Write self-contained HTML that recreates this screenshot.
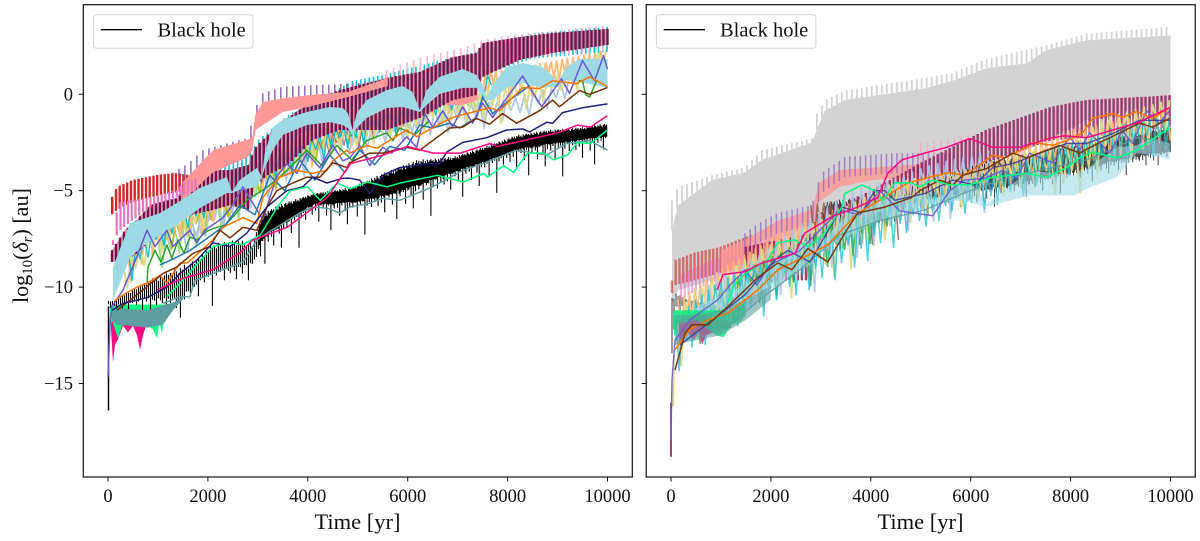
<!DOCTYPE html>
<html>
<head>
<meta charset="utf-8">
<title>Black hole log10 delta r over time</title>
<style>
html,body{margin:0;padding:0;background:#fff;width:1200px;height:541px;overflow:hidden}
svg{display:block}
text{font-family:"Liberation Serif",serif;fill:#111}
</style>
</head>
<body>
<svg id="figure" xmlns="http://www.w3.org/2000/svg" width="1200" height="541" viewBox="0 0 1200 541">
  <rect width="1200" height="541" fill="#fff"/>
  <g id="left-panel"></g>
  <g id="right-panel"></g>
  <g id="decor"></g>
  <rect x="83.3" y="4.7" width="549" height="472.3" fill="none" stroke="#111" stroke-width="1.2"/>
  <rect x="646.2" y="4.7" width="549" height="472.3" fill="none" stroke="#111" stroke-width="1.2"/>
  <g>
    <rect x="93.5" y="14.7" width="159.5" height="33.6" rx="3" fill="#fff" fill-opacity="0.8" stroke="#d4d4d4" stroke-width="1"/>
    <line x1="100.8" x2="142" y1="29.7" y2="29.7" stroke="#000" stroke-width="1.4"/>
    <text x="157.5" y="36.5" font-size="20.5">Black hole</text>
  </g>
  <g>
    <rect x="656.4" y="14.7" width="159.5" height="33.6" rx="3" fill="#fff" fill-opacity="0.8" stroke="#d4d4d4" stroke-width="1"/>
    <line x1="663.7" x2="705" y1="29.7" y2="29.7" stroke="#000" stroke-width="1.4"/>
    <text x="720" y="36.5" font-size="20.5">Black hole</text>
  </g>
  <text x="357.5" y="529" font-size="22.5" text-anchor="middle">Time [yr]</text>
  <text x="920.5" y="529" font-size="22.5" text-anchor="middle">Time [yr]</text>
  <text transform="translate(28,303) rotate(-90)" font-size="22">log<tspan font-size="15" dy="4">10</tspan><tspan dy="-4">(</tspan><tspan font-style="italic">δ</tspan><tspan font-size="15" font-style="italic" dy="4">r</tspan><tspan dy="-4">) [au]</tspan></text>
</svg>
<script>
/* ---------- axis ticks ---------- */
const xTickValues=[0,2000,4000,6000,8000,10000];
const yTickValues=[0,-5,-10,-15];

/* ---------- left panel: spiky bands (time yr, log10 au) ---------- */
const lRedT=[10,40,100,180,500,980,1380,1600];
const lRedTop=[-6.62,-5.64,-5.2,-4.81,-4.44,-4.18,-4.08,-4.18];
const lRedBot=[-6.62,-6.42,-6.16,-6,-5.59,-5.27,-5.07,-4.96];
const lOrchidT=[100,200,500,860,1380,1500,1800];
const lOrchidTop=[-7.56,-5.64,-5.48,-5.33,-4.96,-4.6,-4.34];
const lOrchidBot=[-7.82,-7.14,-6.52,-5.84,-5.33,-5.22,-4.96];
const lSalmonT=[1500,2100,2800,2890,2950,3100,3500,4000,4800,5600];
const lSalmonTop=[-4.55,-2.9,-2.35,-2.2,-1.07,-0.4,-0.2,-0.05,0.12,0.85];
const lSalmonBot=[-5.5,-4.05,-3.25,-2.9,-1.85,-1.6,-0.92,-0.66,-0.14,0.43];
const lSalmonPatchT=[6700,7100,7400];
const lSalmonPatchTop=[0.33,0.33,0.33];
const lSalmonPatchBot=[-0.55,-0.55,-0.3];
const lPurpleT=[1300,1600,1900,2800,2950,3100,3500,5000,5800];
const lPurpleTop=[-4.05,-3.6,-2.9,-2.25,-0.7,0.05,0.4,0.58,0.7];
const lPurpleBot=[-5,-4.6,-4,-3.3,-1.7,-0.9,-0.6,-0.3,-0.2];
const lMaroonT=[80,340,540,840,1380,1640,2100,2440,2800,2940,3200,3600,4100,4640,5580,6240,6900,7380,7500,8240,8900,10000];
const lMaroonTop=[-8.08,-7.04,-6.62,-5.74,-5.38,-4.44,-3.93,-3.93,-3.67,-2.79,-2.11,-1.23,-0.3,0.22,0.85,1.16,1.93,2.14,2.66,2.97,3.18,3.39];
const lMaroonBot=[-8.7,-8.59,-8.33,-7.56,-6.62,-6.26,-6,-5.74,-6,-4.7,-4.19,-3.67,-2.37,-1.85,-1.85,-1.23,-0.3,-0.04,0.9,1.78,2.14,2.56];
const lPinkPaleT=[5580,6280,7100,7500,8040,9900,10000];
const lPinkPaleTop=[1.26,1.93,2.4,2.82,3.08,3.54,3.54];
const lPinkPaleBot=[0,0.64,1.1,1.52,1.78,2.24,2.24];
const lCyanT=[2000,2800,3000,3600,4900,5500,7500,8500,10000];
const lCyanTop=[-3.6,-3.25,-2.4,-1.1,0.7,1,2.3,3.15,3.5];
const lCyanBot=[-4.9,-4.5,-3.7,-2.4,-0.6,-0.3,1,1.85,2.2];
const lSkyT=[100,440,640,1040,1380,1840,2380,2480,2640,2980,3080,3140,3300,3500,3980,4440,4700,4800,4900,4980,5180,5580,5900,6100,6240,6380,6640,7100,7380,7500,7580,7700,7980,8300,8700,8880,9000,9180,9440,10000];
const lSkyTop=[-8.96,-6.68,-6.52,-6.16,-5.64,-4.86,-4.29,-5.07,-4.44,-3.82,-4.29,-3.04,-1.7,-1.33,-0.92,-0.66,-0.71,-0.97,-1.85,-0.97,-0.3,0.22,0.43,0.12,-0.81,0.22,0.9,1.31,1,0.48,-0.19,0.48,1.42,1.62,1.42,1,0.59,1.42,1.83,1.83];
const lSkyBot=[-10.67,-8.49,-7.97,-7.3,-6.78,-5.9,-5.12,-5.12,-4.96,-4.81,-4.29,-3.82,-2.89,-2.11,-1.59,-1.44,-1.59,-1.75,-2.11,-1.75,-1.23,-0.71,-0.66,-0.81,-0.92,-0.55,0.02,0.33,0.33,-0.04,-0.3,-0.3,0.33,0.59,0.33,0.38,0.38,0.74,0.64,0.33];
const lKhakiT=[300,1000,2000,2800,3500,4900,5800,6900,7800,8500,9200,10000];
const lKhakiTop=[-8.85,-6.8,-5.25,-3.7,-2.4,-1.85,-1,-0.3,0.45,0.7,1.1,2.45];
const lKhakiBot=[-10.25,-8.35,-6.8,-5.5,-4.2,-2.75,-2.4,-1.6,-1.6,-0.65,0.2,0.85];
const lPeachT=[400,1100,2100,3000,4000,5000,6000,7000,8000,9000,10000];
const lPeachTop=[-8.05,-6.25,-5,-3.7,-1.85,-0.7,0.45,1.25,1.25,1.75,2.3];
const lPeachBot=[-9.9,-7.8,-6.8,-5,-3.7,-2.4,-1.6,-0.85,-0.55,0.7,1];
const lPaleBlueT=[1500,3000,4000,5000,6000,7000,8000,9000,9400];
const lPaleBlueTop=[-7.05,-3.95,-2.4,-1.85,-1.1,-0.55,-0.3,0.45,1.25];
const lPaleBlueBot=[-8.35,-5.75,-3.95,-2.9,-2.4,-1.85,-1.45,-0.55,-0.05];
const lMintT=[1000,2500,3500,4500,5500,6500,7500];
const lMintTop=[-7.55,-5,-2.9,-1.6,-0.85,-0.3,0.2];
const lMintBot=[-9.1,-6.8,-4.2,-2.9,-2.1,-1.6,-1.1];
const lGrayT=[1000,2500,3500,4500,6000,7500];
const lGrayTop=[-6.8,-4.7,-2.9,-1.6,-0.55,0.45];
const lGrayBot=[-8.1,-6.55,-4.45,-2.9,-1.85,-0.85];
const lMauveT=[2500,3500,4500,5500,6500];
const lMauveTop=[-4.7,-2.6,-1.5,-0.9,-0.3];
const lMauveBot=[-6.2,-3.9,-2.8,-2.2,-1.5];
const lTanT=[3000,4000,5000,6000];
const lTanTop=[-3.7,-2.4,-1.6,-0.85];
const lTanBot=[-4.7,-3.4,-2.65,-2.1];
const lOliveT=[1200,2500,4000,5000,5500];
const lOliveTop=[-6.8,-5.25,-2.4,-1.35,-0.85];
const lOliveBot=[-8.1,-6.25,-3.7,-2.4,-1.85];
const lCyanLowT=[400,1000,2000,3000,5000,6500,7500,7700];
const lCyanLowTop=[-8.05,-6.8,-5.25,-3.4,-1.35,-0.3,0.7,1.25];
const lCyanLowBot=[-9.9,-8.05,-6.25,-4.7,-2.65,-1.1,-0.3,0.2];
const lPinkBlobT=[60,100,140,200,300,400,500,580,640,700,760,860,950];
const lPinkBlobTop=[-11.2,-11.2,-11.2,-11.2,-11.2,-11.2,-11.2,-11.2,-11.2,-11.2,-11.2,-11.2,-11.2];
const lPinkBlobBot=[-12.2,-13.9,-13,-12.7,-12,-12.35,-12,-12.5,-13.25,-12.5,-12,-12.1,-11.8];
const lSpringBlobT=[40,80,200,280,500,800,900,980,1030,1080,1150];
const lSpringBlobTop=[-10.9,-10.9,-10.9,-10.9,-10.9,-10.9,-10.9,-10.9,-10.9,-10.9,-10.9];
const lSpringBlobBot=[-12.2,-11.7,-12.65,-12,-11.8,-12,-12.2,-12.65,-11.8,-12.4,-11.2];
const lTealBlobT=[80,200,800,1100,1300,1500];
const lTealBlobTop=[-11.2,-11.1,-11.2,-10.95,-10.8,-10.5];
const lTealBlobBot=[-11.8,-11.95,-12.1,-11.95,-11.2,-10.65];
const lBlackT=[10,40,100,300,800,1400,1800,2100,2600,2900,3100,3500,4100,4900,5500,6200,6900,7500,8200,8800,9500,10000];
const lBlackTop=[-10.7,-10.7,-10.7,-10.4,-9.65,-9,-8.5,-7.7,-7.55,-7.7,-6.15,-5.65,-5.15,-4.8,-4.1,-3.4,-3.25,-2.75,-2.1,-1.85,-1.7,-1.5];
const lBlackBot=[-10.9,-10.9,-10.9,-10.9,-10.65,-10.75,-9.8,-9.25,-9.1,-8.75,-7.55,-6.8,-5.75,-5.65,-5.35,-4.8,-4.1,-3.6,-2.9,-2.65,-2.4,-2.2];
const bhDips=[0,0.2,0,0.1,0.5,0,0,0.3,0,0,0.9,0,0.1,0,0.2,0,0,0.6,0,0.1,0,1.4,0,0.1,0.3,0,0,0.2,0,0.7,0,0.1,0,0,0.4,0,1.1,0,0.2,0,0,0.3,0,0.1,0,0.8,0,0,0.2,0,0.1,0,1.8,0,0.3,0,0.1,0,0.5,0];
const bhPeaks=[0.1,0.5,0.3,0.7,0,0.4,0.8,0.2,0.6,0,0.5,0.9,0.3,0.1,0.7,0.4,0,0.6,0.2,0.8,0.3,0.5,0,0.7,0.4,0.9,0.1,0.6,0.3];
const lBlackRiseT=[10,10];
const lBlackRiseV=[-16.4,-11];

/* ---------- left panel: lines ---------- */
const lHotPinkT=[980,1440,2100,2650,2900,3590,4390,4850,5510,5990,6510,7050,7650,7800,9000,9400,9660,10000];
const lHotPinkV=[-10.15,-9.6,-9.1,-8.2,-7.55,-6.9,-5.35,-3.6,-3.15,-2.7,-3.05,-3.05,-2.55,-2.7,-2,-1.6,-1.7,-1.1];
const lSpringT=[1180,1440,2100,2440,2700,3050,3390,3650,3990,4250,4590,4850,5190,5590,5850,6590,7120,7520,7600,7920,8120,8400,8720,8920,9200,9400,9660,10000];
const lSpringV=[-10.5,-9.8,-7.9,-7.7,-7.8,-7.3,-5.85,-5,-4.8,-5.5,-4.6,-4.9,-4.55,-4.8,-4.6,-4.2,-4.55,-4.1,-4.3,-3.7,-4.05,-3.05,-3.05,-3.4,-3.15,-2.5,-2.55,-1.85];
const lTealT=[1100,1440,1640,1740,2100,2700,2980,3180,3440,3840,4100,4380,4640,4840,5240,5500,5840,6500,7100,7500,8180,8780,9180,9640,10000];
const lTealV=[-10.85,-10.5,-10.5,-9.65,-9.3,-8.7,-7.55,-7.2,-6.8,-6.15,-5.85,-5.9,-6.15,-5.85,-5.65,-5.4,-5.5,-4.8,-3.95,-3.6,-2.9,-3.15,-2.55,-2.4,-2.9];
const lNavyT=[80,300,780,1180,1440,1780,2100,2440,2780,3180,3580,3900,4100,4380,4700,4840,5040,5240,5500,5840,6380,6640,6780,7100,7580,7980,8300,8440,8780,8900,9100,9500,10000];
const lNavyV=[-11.2,-10.85,-10.55,-10,-9.3,-8.6,-7.7,-7.9,-7.2,-5.85,-5,-4.8,-4.3,-4.6,-4.35,-4.35,-4.45,-5.15,-4.2,-3.8,-3.6,-3.6,-3,-2.5,-2.25,-1.85,-1.8,-1.95,-1.45,-1.5,-0.95,-0.7,-0.5];
const lBrownT=[180,580,1100,1380,1700,2040,2180,2240,2440,2700,2980,3180,3380,3700,3980,4240,4500,4780,4840,5240,5500,5980,6240,6840,7100,7380,7640,7900,8180,8640,8900,9040,9440,9640,10000];
const lBrownV=[-11.2,-10.4,-9.3,-8.95,-8.25,-7.9,-7.3,-7.05,-7.45,-6.9,-7.05,-5.85,-5,-4.6,-4.3,-4.3,-3.55,-3.8,-3.55,-3.05,-3.05,-2.75,-2.9,-1.75,-1.7,-1.25,-1.55,-1,-1.5,-0.85,-0.3,-0.65,0.2,0,0.35];
const lOrangeT=[140,300,580,780,1040,1180,1440,1580,1700,2100,2300,2700,2980,3100,3440,3780,4100,4380,4500,4780,4840,5180,5380,5980,6180,6700,6900,7640,7840,8300,8640,8900,9380,9640,10000];
const lOrangeV=[-10.7,-10.4,-10,-9.8,-9.4,-9.8,-8.75,-8.75,-8.5,-7.55,-6.9,-6.4,-6.7,-5.35,-4.3,-3.95,-4.1,-3.95,-3.45,-2.9,-3.05,-2.65,-2.8,-1.85,-2.2,-1.45,-1.2,-0.7,-0.85,0.35,0.3,0.7,0.55,0.9,0.4];
const lVioletT=[0,40,80,300,580,780,940,1180,1300,1640,1780,1940,2300,2480,2700,3100,3380,3580,3780,3980,4240,4500,4700,4840,5040,5240,5500,5680,5980,6180,6340,6500,6700,6900,7100,7300,7500,7700,8300,8680,9080,9240,9500,9740,9920,10000];
const lVioletV=[-14.65,-11.85,-11,-10.15,-8.4,-7.05,-7.9,-7.05,-7.9,-7.05,-7.7,-7.05,-6.4,-5.8,-4.8,-6.5,-4.25,-3.6,-4.1,-3.05,-3.8,-2.65,-3.45,-3.3,-2.65,-3.7,-2.75,-3.05,-2.2,-2.75,-1,-1.7,-0.85,-1.7,-0.65,-1.5,-0.45,-1.2,0.95,-0.65,0.8,0.05,1.75,0.7,2,1.3];
const lBlueT=[1040,1340,1640,1940,2340,2640,2940,3240,3540,3840,4140,4440,4740,5040,5340,5640,5940,6240,6500,6840,7040,7380,7500,7700,8040,8440];
const lBlueV=[-8.85,-8.5,-8.1,-7.55,-6.8,-5.75,-6.25,-4.2,-5,-3.4,-4.45,-3.15,-4.05,-2.9,-3.65,-2.7,-2.9,-1.6,-1.75,-1.5,-1.75,-1.2,-0.15,-1,-0.3,0.45];
const lGreenT=[780,800,940,1060,1180,1280,1400,1520,1640,1780,1980,2180,2340,2540,2780,3080,3380,3680,3980,4280,4580,4880,5180,5580,5700,5840,6140,6440];
const lGreenV=[-9.8,-8.97,-8.09,-8.7,-7.82,-8.5,-7.56,-8.23,-7.4,-7.56,-7.1,-6.9,-6.8,-6.25,-5.5,-5,-4.45,-3.7,-2.9,-3.7,-2.65,-3.4,-2.4,-2,-2.4,-1.75,-2.1,-1.35];
const lGreenLateT=[9420,9500,9560,9640,9700,9780];
const lGreenLateV=[0.7,0.7,0,-0.15,0.2,0.7];

/* ---------- right panel: bands ---------- */
const rGrayT=[20,140,820,1480,1820,2820,2880,3080,3480,5080,5640,6320,7120,7520,8320,10000];
const rGraySpike=[-5.5,-4.8,-4.2,-3.8,-2.9,-2.3,-1.2,-0.3,0.2,0.85,1.1,1.85,2.3,2.55,3.15,3.5];
const rGrayTop=[-7.05,-5.75,-4.45,-4.05,-3.4,-2.5,-2.1,-0.85,-0.3,0.3,0.7,1.35,1.6,2.3,2.8,3.05];
const rGrayBot=[-10.9,-10.15,-9.65,-9.1,-8.6,-7.3,-7.05,-6,-5.5,-5,-4.45,-3.7,-2.9,-2.4,-1.35,-0.85];
const rBlackT=[20,100,300,1000,2000,3000,3100,3500,4000,4600,5200,6400,7200,8800,9400,10000];
const rBlackTop=[-10.5,-10.3,-10.6,-11,-9,-6.5,-5.6,-5.4,-5.3,-4.9,-4.4,-3.4,-3,-2.2,-1.9,-1.6];
const rBlackBot=[-13.5,-11,-11,-11.3,-9.8,-7.5,-7,-6.8,-6.6,-5.8,-5.4,-5,-4.6,-3.6,-3.3,-3];
const rRedT=[20,80,480,940,1600];
const rRedTop=[-9.65,-8.6,-8.2,-7.95,-7.3];
const rRedBot=[-10.3,-9.9,-9.65,-9.3,-8.85];
const rOrchidT=[200,700,1400,2000,2300];
const rOrchidTop=[-9.35,-8.7,-8.1,-7.55,-7.3];
const rOrchidBot=[-10.65,-9.9,-9.1,-8.7,-8.35];
const rSalmonT=[1000,1480,2140,2800,2880,2960,3380,4040,5080];
const rSalmonTop=[-8.1,-7.55,-6.55,-6,-5.5,-4.6,-3.92,-3.8,-3.6];
const rSalmonBot=[-9.4,-9.1,-8.1,-7.2,-6.8,-5.6,-4.8,-4.45,-4.3];
const rPurpleT=[1480,1740,2140,2820,3000,3480,4480,5080,5600];
const rPurpleTop=[-7.2,-6.7,-6.15,-5.75,-4.1,-3.25,-3.05,-3.05,-3.05];
const rPurpleBot=[-8.25,-7.75,-7.2,-6.8,-5.15,-4.3,-4.1,-4.1,-4.1];
const rMaroonT=[1500,2800,2900,4000,5000,6300,7600,8300,10000];
const rMaroonTop=[-7.9,-7.2,-6.25,-5,-3.55,-1.85,-0.65,-0.3,-0.05];
const rMaroonBot=[-9.65,-9.65,-8.1,-6.8,-5.5,-3.55,-2.4,-2.25,-1.7];
const rPinkPaleT=[5000,5640,6980,7640,8320,10000];
const rPinkPaleTop=[-2.55,-2.25,-1.7,-0.85,-0.2,-0.05];
const rPinkPaleBot=[-4.1,-3.8,-3.25,-2.4,-1.75,-1.6];
const rCyanT=[100,500,1000,1700,2500,3500,4400,5000,5600,6300,6900,7500,8200,9000,10000];
const rCyanTop=[-11.7,-10.65,-9.65,-8.85,-8.1,-6.8,-5.5,-5.25,-4.7,-4.2,-3.7,-2.9,-2.4,-1.6,-1.1];
const rCyanBot=[-14.55,-13.25,-12.5,-11.45,-10.4,-9.4,-7.8,-6.95,-6.3,-6,-5.25,-4.7,-3.95,-3.4,-2.9];
const rKhakiT=[120,580,1180,1780,2580,3580,4380,5180,5780,6580,7180,7780,8080,8580,9180,10000];
const rKhakiTop=[-11.2,-10.15,-9.1,-8.1,-7.05,-5.75,-4.7,-4.2,-3.95,-3.7,-2.9,-2.9,-2.9,-1.35,-0.85,-0.3];
const rKhakiBot=[-14.3,-13,-11.7,-10.65,-10.15,-9.1,-7.3,-6.25,-5.75,-5.25,-4.7,-5.25,-5.6,-3.95,-3.15,-2.4];
const rPaleBlueT=[580,1780,2180,2580,2720,3580,4380,5180,6380];
const rPaleBlueTop=[-10.15,-8.35,-7.55,-6.8,-6.55,-5,-4.45,-3.7,-2.9];
const rPaleBlueBot=[-12.2,-10.65,-10.4,-9.9,-10.15,-8.7,-7.3,-6.8,-5.75];
const rGreenT=[500,1000,1500,2500,3500,4500];
const rGreenTop=[-11.2,-10.4,-9.1,-7.8,-6.25,-5];
const rGreenBot=[-13,-12.5,-11.2,-10.15,-8.6,-6.8];
const rOrangeT=[150,1000,2000,3000,4000,5000,6000,8000,10000];
const rOrangeTop=[-10.65,-9.1,-7.55,-6.25,-5.25,-4.45,-3.95,-1.85,-0.85];
const rOrangeBot=[-13,-11.2,-10.15,-8.6,-7.3,-6,-5.25,-3.95,-2.4];
const rTanT=[2800,3400,4000,4600];
const rTanTop=[-5.75,-5.5,-5.5,-5.25];
const rTanBot=[-7.55,-8.1,-7.8,-7.3];
const rSkyT=[180,580,1480,1780,2580,2780,2880,3580,4180,5080,5280,5880,6180,6280,7180,8080,8280,8920,9320,9640,9980];
const rSkyTop=[-11.9,-10.9,-9.9,-9.4,-7.8,-7.55,-8.1,-6.1,-5.5,-5.1,-5.5,-4.45,-5,-5.75,-3.95,-4.2,-3.95,-2.75,-2.65,-2.25,-2.55];
const rSkyBot=[-13,-12.5,-11.2,-10.65,-9.1,-8.85,-8.35,-7.3,-6.55,-5.75,-5.65,-5.5,-5.75,-5.85,-5.25,-5.25,-4.95,-4.3,-3.05,-3.15,-3.4];
const rTealBlobT=[80,500,1000,1500,2000];
const rTealBlobTop=[-11.45,-11.45,-11.2,-10.65,-9.9];
const rTealBlobBot=[-13,-12.75,-12.5,-11.7,-10.65];
const rPinkBlobT=[160,300,460,560,620,700,800,1000,1200];
const rPinkBlobTop=[-11.7,-11.7,-11.45,-11.45,-11.45,-11.45,-11.6,-11.7,-11.8];
const rPinkBlobBot=[-13,-12.25,-12.75,-12.25,-13,-12.5,-12.4,-12.25,-12.1];
const rSpringBlobT=[60,120,500,900,1060,1200,1400,1500];
const rSpringBlobTop=[-11.2,-11.2,-11.2,-11.2,-11.2,-11.3,-10.95,-10.7];
const rSpringBlobBot=[-12.65,-11.95,-11.7,-12.5,-12.6,-12,-11.8,-11.45];
const zigDepths=[1,0.6,0.85,0.5,1,0.7,0.4,0.95,0.65,1,0.55,0.8,0.45,1.1,0.6,0.9,0.5,0.75,1,0.6];

/* ---------- right panel: lines ---------- */
const rHotPinkT=[920,1040,1480,1820,2480,2680,3220,3740,4140,4340,4620,5080,5520,5980,6440,6980,7640,7880,8320,8980,9320,9980];
const rHotPinkV=[-10.15,-9.35,-9.2,-8.75,-8.25,-7.2,-6.35,-5.85,-5.35,-4.1,-3.4,-3.05,-2.75,-2.3,-2.75,-2.75,-2.25,-2.15,-2.25,-1.75,-1.5,-0.7];
const rSpringT=[1140,1240,1480,1940,2140,2480,2740,3080,3420,3480,3820,4080,4240,4480,4820,4980,5240,5580,5980,6440,7120,7520,7920,8180,8440,8920,9320,9980];
const rSpringV=[-10.8,-10,-9.3,-8.6,-7.7,-7.55,-7.9,-7.2,-5.85,-5.15,-4.7,-5,-5.5,-4.6,-4.6,-4.8,-4.45,-4.7,-4.7,-4.3,-4.1,-4.3,-3.8,-3.3,-3,-3.3,-2.9,-1.75];
const rOrangeLineT=[80,380,740,1140,1740,2140,2740,3140,3740,4180,4480,4740,5180,5580,5840,6120,6440,6680,7120,7240,7640,7920,8240,8440,8840,9040,9320,9640,9980];
const rOrangeLineV=[-13.25,-12.2,-11.7,-11.35,-10.15,-9.1,-8.35,-7.8,-6.15,-5.5,-5,-4.6,-4.3,-4.05,-4.2,-3.8,-3.15,-3.3,-2.75,-2.5,-2.65,-2.4,-2,-1.25,-1,-1.2,-0.9,-1.25,-0.7];
const rBrownT=[80,280,420,740,1140,1740,2140,2420,2740,3140,3480,3740,4280,4820,4980,5380,5640,5840,6320,6840,7120,7520,7780,8180,8580,8980,9380,9640,9980];
const rBrownV=[-14.3,-12.4,-11.95,-11.95,-11,-9.5,-8.75,-9.1,-8,-8.7,-7.2,-6.15,-5.85,-5.35,-5,-4.45,-4.7,-4.2,-3.85,-3.05,-3.3,-2.9,-2.65,-3.05,-2.5,-2,-1.5,-1.7,-1.25];
const rNavyT=[180,580,1480,2140,2340,2780,3420,3820,4080,4280,4480,5080,5640,6080,6440,6840,7440,7920,8320,8840,9380,9980];
const rNavyV=[-13,-12.2,-10.4,-8.45,-8.1,-8.7,-5.85,-6.15,-5,-5,-5.5,-5.15,-4.45,-4.7,-3.8,-3.6,-3,-2.55,-2.55,-2.05,-1.35,-1.35];
const rVioletT=[0,20,80,380,940,1180,1480,1720,1980,2580,3380,3780,4180,4580,4980,5240,5580,5880,6280,6640,6920,7180,7640,7980,8180,8380,8780,9040,9240,9520,9780,9980];
const rVioletV=[-17.9,-14.8,-12.75,-11.7,-10.65,-9.9,-9.1,-9.9,-8.85,-8.1,-6,-6.25,-5,-6.05,-6.2,-6.3,-5,-4.45,-4.35,-3.95,-4.35,-3.05,-3.55,-2.2,-2.9,-2,-3.05,-1.9,-2.55,-0.85,-1.5,-0.85];
const rTealT=[1180,1780,2580,3380,4180,5080,5840,6580,7380,8320,8780,9320,9780,9980];
const rTealV=[-11.95,-10.65,-9.1,-7.3,-6.55,-6,-5.15,-4.45,-3.95,-3.4,-2.9,-2.25,-2.4,-2.75];
const rMaroonRiseT=[0,0];
const rMaroonRiseV=[-18.8,-16];
const rKhakiRiseT=[40,60];
const rKhakiRiseV=[-16.2,-13.5];

/* ---------- axis functions ---------- */
const SVGNS='http://www.w3.org/2000/svg';
const leftOrigin=108, rightOrigin=671, pxPerYear=0.04995, zeroY=94.3, pxPerDex=19.28;
function scaleX(origin,t){return origin+t*pxPerYear;}
function scaleY(v){return zeroY-v*pxPerDex;}
function interp(T,V,t){
  if(t<=T[0])return V[0];
  for(let i=1;i<T.length;i++){
    if(t<=T[i]){const f=(t-T[i-1])/((T[i]-T[i-1])||1);return V[i-1]+f*(V[i]-V[i-1]);}
  }
  return V[V.length-1];
}
function addShape(parent,name,d,stroke,fill,width,opacity){
  const el=document.createElementNS(SVGNS,'path');
  
  
  el.setAttribute('d',d);
  el.setAttribute('stroke',stroke);
  el.setAttribute('fill',fill);
  el.setAttribute('stroke-width',width);
  el.setAttribute('stroke-linejoin','round');
  el.setAttribute('opacity',opacity);
  parent.appendChild(el);
}
function drawLine(p,o,name,T,V,color,width,opacity){
  let d='';
  const n=Math.min(T.length,V.length);
  for(let i=0;i<n;i++){d+=(i?'L':'M')+scaleX(o,T[i]).toFixed(1)+' '+scaleY(V[i]).toFixed(1);}
  addShape(p,name,d,color,'none',width,opacity);
}
function drawArea(p,o,name,T,Top,Bot,color,opacity){
  let d='';
  for(let i=0;i<T.length;i++){d+=(i?'L':'M')+scaleX(o,T[i]).toFixed(1)+' '+scaleY(Top[i]).toFixed(1);}
  for(let i=T.length-1;i>=0;i--){d+='L'+scaleX(o,T[i]).toFixed(1)+' '+scaleY(Bot[i]).toFixed(1);}
  addShape(p,name,d+'Z','none',color,0,opacity);
}
function drawComb(p,o,name,T,Top,Bot,color,period,width,opacity){
  let d='';
  for(let t=T[0];t<=T[T.length-1]+0.01;t+=period){
    const a=interp(T,Top,t),b=interp(T,Bot,t);
    d+='M'+scaleX(o,t).toFixed(1)+' '+scaleY(a).toFixed(1)+'V'+scaleY(b).toFixed(1);
  }
  addShape(p,name,d,color,'none',width,opacity);
}
function drawZig(p,o,name,T,Top,Bot,color,period,width,opacity){
  let d='',up=true,first=true,k=0;
  for(let t=T[0];t<=T[T.length-1]+0.01;t+=period/2){
    const a=interp(T,Top,t),b=interp(T,Bot,t);
    const v=up?a:a+(b-a)*zigDepths[k++%zigDepths.length];
    d+=(first?'M':'L')+scaleX(o,t).toFixed(1)+' '+scaleY(v).toFixed(1);
    up=!up;first=false;
  }
  addShape(p,name,d,color,'none',width,opacity);
}
function drawBlack(p,o,name,T,Top,Bot,width,opacity,dipScale){
  let d='',k=0;
  for(let t=T[0];t<=T[T.length-1]+0.01;t+=(t<3000?40:22)){
    const a=interp(T,Top,t),b=interp(T,Bot,t);
    const span=Math.max(a-b,0.4);
    const top=a-span*bhPeaks[k%bhPeaks.length]*0.22;
    const bot=b+span*bhPeaks[(k+7)%bhPeaks.length]*0.12-bhDips[k%bhDips.length]*dipScale;
    d+='M'+scaleX(o,t).toFixed(1)+' '+scaleY(top).toFixed(1)+'V'+scaleY(bot).toFixed(1);
    k++;
  }
  addShape(p,name,d,'#000','none',width,opacity);
}

/* ---------- left panel ---------- */
const L=document.getElementById('left-panel');
drawZig(L,leftOrigin,'left-gray-series',lGrayT,lGrayTop,lGrayBot,'#c7c7c7',190,1.7,1);
drawZig(L,leftOrigin,'left-mint-series',lMintT,lMintTop,lMintBot,'#98df8a',170,1.7,1);
drawZig(L,leftOrigin,'left-mauve-series',lMauveT,lMauveTop,lMauveBot,'#c5b0d5',150,1.7,1);
drawZig(L,leftOrigin,'left-pale-blue-series',lPaleBlueT,lPaleBlueTop,lPaleBlueBot,'#aec7e8',180,1.8,1);
drawZig(L,leftOrigin,'left-olive-series',lOliveT,lOliveTop,lOliveBot,'#bcbd22',160,1.7,1);
drawZig(L,leftOrigin,'left-peach-series',lPeachT,lPeachTop,lPeachBot,'#ffbb78',110,1.8,1);
drawZig(L,leftOrigin,'left-tan-series',lTanT,lTanTop,lTanBot,'#8c564b',150,1.1,0.8);
drawZig(L,leftOrigin,'left-khaki-series',lKhakiT,lKhakiTop,lKhakiBot,'#dbdb8d',170,1.9,1);
drawZig(L,leftOrigin,'left-low-cyan-series',lCyanLowT,lCyanLowTop,lCyanLowBot,'#17becf',160,1.4,1);
drawArea(L,leftOrigin,'left-salmon-patch',lSalmonPatchT,lSalmonPatchTop,lSalmonPatchBot,'#ff9896',1);
drawComb(L,leftOrigin,'left-cyan-series',lCyanT,lCyanTop,lCyanBot,'#17becf',85,1.6,1);
drawComb(L,leftOrigin,'left-pale-pink-series',lPinkPaleT,lPinkPaleTop,lPinkPaleBot,'#f7b6d2',135,1.6,1);
drawComb(L,leftOrigin,'left-purple-series',lPurpleT,lPurpleTop,lPurpleBot,'#9467bd',120,1.5,1);
drawArea(L,leftOrigin,'left-maroon-underlay',lMaroonT,lMaroonTop,lMaroonBot,'#b9809c',0.75);
drawComb(L,leftOrigin,'left-maroon-series',lMaroonT,lMaroonTop,lMaroonBot,'#7a0c48',80,2.3,1);
drawComb(L,leftOrigin,'left-red-series',lRedT,lRedTop,lRedBot,'#d62728',75,2.4,1);
drawArea(L,leftOrigin,'left-salmon-band',lSalmonT,lSalmonTop,lSalmonBot,'#ff9896',1);
drawComb(L,leftOrigin,'left-orchid-series',lOrchidT,lOrchidTop,lOrchidBot,'#e377c2',75,2.2,1);
drawArea(L,leftOrigin,'left-sky-band',lSkyT,lSkyTop,lSkyBot,'#9edae5',1);
drawLine(L,leftOrigin,'left-green-line',lGreenT,lGreenV,'#2ca02c',1.5,1);
drawLine(L,leftOrigin,'left-green-line-late',lGreenLateT,lGreenLateV,'#2ca02c',1.5,1);
drawArea(L,leftOrigin,'left-pink-blob',lPinkBlobT,lPinkBlobTop,lPinkBlobBot,'#ff0a80',1);
drawArea(L,leftOrigin,'left-spring-blob',lSpringBlobT,lSpringBlobTop,lSpringBlobBot,'#00ff7f',1);
drawBlack(L,leftOrigin,'left-black-hole-series',lBlackT,lBlackTop,lBlackBot,1.1,1,1);
drawLine(L,leftOrigin,'left-black-hole-rise',lBlackRiseT,lBlackRiseV,'#000',1.5,1);
drawArea(L,leftOrigin,'left-teal-blob',lTealBlobT,lTealBlobTop,lTealBlobBot,'#5f9ea0',1);
drawLine(L,leftOrigin,'left-blue-line',lBlueT,lBlueV,'#1f77b4',1.5,1);
drawLine(L,leftOrigin,'left-violet-line',lVioletT,lVioletV,'#6a5acd',1.5,1);
drawLine(L,leftOrigin,'left-orange-line',lOrangeT,lOrangeV,'#ff7500',1.5,1);
drawLine(L,leftOrigin,'left-brown-line',lBrownT,lBrownV,'#7a2e00',1.5,1);
drawLine(L,leftOrigin,'left-navy-line',lNavyT,lNavyV,'#1f1f7a',1.5,1);
drawLine(L,leftOrigin,'left-teal-line',lTealT,lTealV,'#5f9ea0',1.5,1);
drawLine(L,leftOrigin,'left-spring-line',lSpringT,lSpringV,'#00ff7f',1.5,1);
drawLine(L,leftOrigin,'left-hot-pink-line',lHotPinkT,lHotPinkV,'#ff0a80',1.5,1);

/* ---------- right panel ---------- */
const R=document.getElementById('right-panel');
drawComb(R,rightOrigin,'right-gray-spikes',rGrayT,rGraySpike,rGrayTop,'#d3d3d3',100,1.8,1);
drawArea(R,rightOrigin,'right-gray-band',rGrayT,rGrayTop,rGrayBot,'#d3d3d3',1);
drawBlack(R,rightOrigin,'right-black-hole-series',rBlackT,rBlackTop,rBlackBot,0.9,0.85,0.5);
drawComb(R,rightOrigin,'right-red-series',rRedT,rRedTop,rRedBot,'#d62728',75,2.4,0.6);
drawComb(R,rightOrigin,'right-orchid-series',rOrchidT,rOrchidTop,rOrchidBot,'#e377c2',75,2,0.6);
drawArea(R,rightOrigin,'right-salmon-band',rSalmonT,rSalmonTop,rSalmonBot,'#ff9896',0.8);
drawComb(R,rightOrigin,'right-purple-series',rPurpleT,rPurpleTop,rPurpleBot,'#9467bd',105,1.5,0.75);
drawComb(R,rightOrigin,'right-pale-pink-series',rPinkPaleT,rPinkPaleTop,rPinkPaleBot,'#f2a6c6',135,1.6,0.8);
drawComb(R,rightOrigin,'right-maroon-series',rMaroonT,rMaroonTop,rMaroonBot,'#8a1450',80,2.4,0.8);
drawZig(R,rightOrigin,'right-orange-series',rOrangeT,rOrangeTop,rOrangeBot,'#ffbb78',110,1.7,0.9);
drawZig(R,rightOrigin,'right-tan-series',rTanT,rTanTop,rTanBot,'#8c564b',130,1.6,0.8);
drawZig(R,rightOrigin,'right-khaki-series',rKhakiT,rKhakiTop,rKhakiBot,'#dbdb8d',170,1.9,0.95);
drawZig(R,rightOrigin,'right-green-series',rGreenT,rGreenTop,rGreenBot,'#2ca02c',170,1.5,0.8);
drawZig(R,rightOrigin,'right-pale-blue-series',rPaleBlueT,rPaleBlueTop,rPaleBlueBot,'#aec7e8',170,1.7,0.9);
drawZig(R,rightOrigin,'right-cyan-series',rCyanT,rCyanTop,rCyanBot,'#17becf',130,1.5,0.75);
drawArea(R,rightOrigin,'right-sky-band',rSkyT,rSkyTop,rSkyBot,'#9edae5',0.6);
drawArea(R,rightOrigin,'right-pink-blob',rPinkBlobT,rPinkBlobTop,rPinkBlobBot,'#f0148c',0.9);
drawArea(R,rightOrigin,'right-spring-blob',rSpringBlobT,rSpringBlobTop,rSpringBlobBot,'#00e878',0.8);
drawArea(R,rightOrigin,'right-teal-blob',rTealBlobT,rTealBlobTop,rTealBlobBot,'#5f9ea0',0.6);
drawLine(R,rightOrigin,'right-maroon-rise',rMaroonRiseT,rMaroonRiseV,'#8a1450',1.6,1);
drawLine(R,rightOrigin,'right-khaki-rise',rKhakiRiseT,rKhakiRiseV,'#dbdb8d',2,1);
drawLine(R,rightOrigin,'right-teal-line',rTealT,rTealV,'#5f9ea0',1.4,0.85);
drawLine(R,rightOrigin,'right-violet-line',rVioletT,rVioletV,'#6a5acd',1.4,0.9);
drawLine(R,rightOrigin,'right-navy-line',rNavyT,rNavyV,'#3b3b8f',1.4,0.85);
drawLine(R,rightOrigin,'right-orange-line',rOrangeLineT,rOrangeLineV,'#ff7500',1.5,1);
drawLine(R,rightOrigin,'right-brown-line',rBrownT,rBrownV,'#7a3a10',1.5,1);
drawLine(R,rightOrigin,'right-spring-line',rSpringT,rSpringV,'#00ff7f',1.5,1);
drawLine(R,rightOrigin,'right-hot-pink-line',rHotPinkT,rHotPinkV,'#ff0a80',1.5,1);

/* ---------- ticks ---------- */
const D=document.getElementById('decor');
function addTick(name,x1,y1,x2,y2){
  const el=document.createElementNS(SVGNS,'line');
  
  
  el.setAttribute('x1',x1);el.setAttribute('y1',y1);el.setAttribute('x2',x2);el.setAttribute('y2',y2);
  el.setAttribute('stroke','#111');el.setAttribute('stroke-width','1');
  D.appendChild(el);
}
function addLabel(name,x,y,anchor,str){
  const el=document.createElementNS(SVGNS,'text');
  
  
  el.setAttribute('x',x);el.setAttribute('y',y);el.setAttribute('text-anchor',anchor);
  el.setAttribute('font-size','18.5');
  el.textContent=str;
  D.appendChild(el);
}
[leftOrigin,rightOrigin].forEach(function(o,side){
  const prefix=side?'right':'left';
  xTickValues.forEach(function(v){
    const px=scaleX(o,v);
    addTick(prefix+'-x-tick-'+v,px,477,px,481.5);
    addLabel(prefix+'-x-tick-label-'+v,px,502,'middle',String(v));
  });
  yTickValues.forEach(function(v){
    const py=scaleY(v);
    const frame=side?646.2:83.3;
    addTick(prefix+'-y-tick-'+v,frame-4.5,py,frame,py);
    if(!side){addLabel('y-tick-label-'+v,73,py+6,'end',String(v).replace('-','\u2212'));}
  });
});
</script>
</body>
</html>
